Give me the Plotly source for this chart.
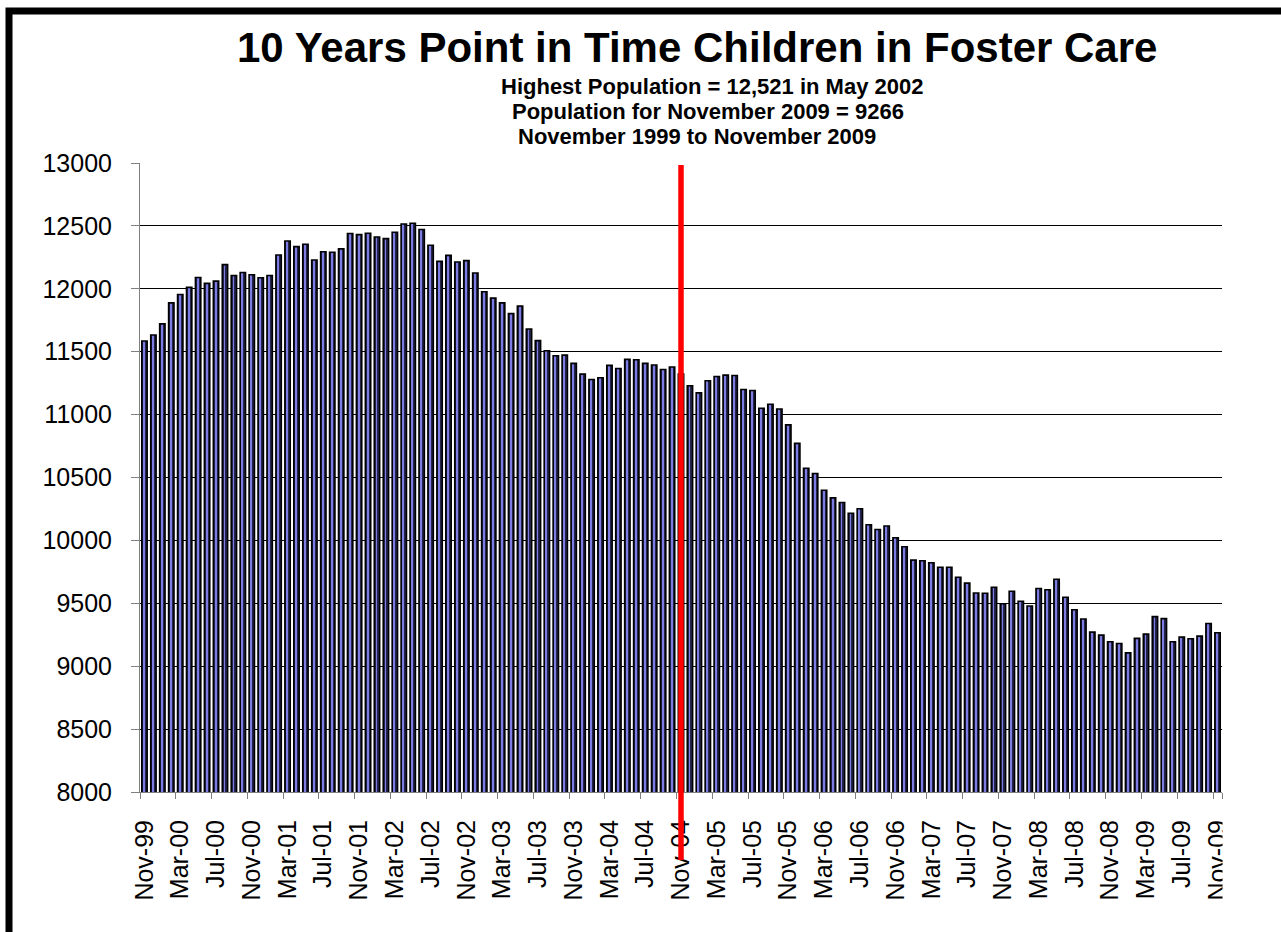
import pandas as pd
import plotly.graph_objects as go

# Monthly point-in-time counts, Nov 1999 .. Nov 2009
months = [d.strftime("%b-%y") for d in pd.date_range("1999-11-01", "2009-11-01", freq="MS")]

children = [
    11585, 11633, 11721, 11888, 11955, 12011, 12090, 12043, 12061, 12192,
    12106, 12130, 12112, 12088, 12106, 12269, 12380, 12335, 12354, 12229,
    12295, 12290, 12317, 12439, 12431, 12442, 12412, 12399, 12450, 12515,
    12521, 12471, 12346, 12218, 12266, 12213, 12224, 12125, 11976, 11926,
    11888, 11803, 11862, 11681, 11588, 11508, 11468, 11473, 11407, 11322,
    11279, 11293, 11391, 11367, 11439, 11436, 11407, 11394, 11359, 11378,
    11322, 11229, 11173, 11269, 11303, 11314, 11311, 11200, 11192, 11051,
    11082, 11045, 10918, 10771, 10574, 10532, 10399, 10338, 10301, 10216,
    10251, 10124, 10087, 10114, 10021, 9949, 9843, 9838, 9822, 9787,
    9787, 9707, 9660, 9582, 9580, 9628, 9497, 9596, 9516, 9479,
    9618, 9608, 9691, 9548, 9449, 9375, 9271, 9247, 9194, 9181,
    9106, 9221, 9255, 9394, 9378, 9194, 9231, 9218, 9239, 9340,
    9266,
]

tick_labels = months[::4]
marker_month = "Nov-04"

title = "10 Years Point in Time Children in Foster Care"
subtitles = [
    "Highest Population = 12,521 in May 2002",
    "Population for November 2009 = 9266",
    "November 1999 to November 2009",
]

FONT = "Arial, 'Liberation Sans', sans-serif"
W, H = 1281, 932
L, R, T, B = 140, 59, 163, 140
PW, PH = W - L - R, H - T - B


def px_x(px):
    return (px - L) / PW


def px_y(py):
    return (H - B - py) / PH


fig = go.Figure()

BAR_W = 0.6
# body of each bar
fig.add_trace(go.Bar(
    x=months, y=children, width=BAR_W,
    marker=dict(color="#24244c", line=dict(width=0)),
    hoverinfo="x+y", showlegend=False,
))
# light highlight stripe inside each bar
fig.add_trace(go.Bar(
    x=months, y=children, width=0.1, offset=-0.1,
    marker=dict(color="#7c7ce2", line=dict(width=0)),
    hoverinfo="skip", showlegend=False,
))
# black outline on top
fig.add_trace(go.Bar(
    x=months, y=children, width=BAR_W,
    marker=dict(color="rgba(0,0,0,0)", line=dict(width=1.6, color="#000000")),
    hoverinfo="skip", showlegend=False,
))

fig.update_layout(
    width=W, height=H, autosize=False,
    margin=dict(l=L, r=R, t=T, b=B, pad=0),
    paper_bgcolor="white", plot_bgcolor="white",
    barmode="overlay",
    font=dict(family=FONT, color="black"),
)

fig.update_xaxes(
    type="category", categoryorder="array", categoryarray=months,
    tickmode="array", tickvals=tick_labels, ticktext=tick_labels,
    tickson="boundaries", ticks="outside", ticklen=6, tickcolor="#808080",
    tickangle=-90, tickfont=dict(size=25, family=FONT, color="black"),
    ticklabelstandoff=17,
    showgrid=False, showline=True, linecolor="#808080", linewidth=1,
    range=[-0.5, len(months) - 0.5], fixedrange=True,
)
fig.update_yaxes(
    range=[8000, 13000], dtick=500, tick0=8000,
    exponentformat="none", separatethousands=False, tickformat="d",
    ticks="outside", ticklen=8, tickcolor="#808080",
    tickfont=dict(size=25, family=FONT, color="black"),
    ticklabelstandoff=14,
    showgrid=True, gridcolor="#000000", gridwidth=1,
    showline=True, linecolor="#808080", linewidth=1,
    zeroline=False, fixedrange=True,
)

marker_idx = months.index(marker_month)
shapes = [
    # red marker line at November 2004
    dict(type="line", xref="x", yref="paper",
         x0=marker_idx, x1=marker_idx, y0=px_y(860), y1=px_y(165),
         line=dict(color="#ff0000", width=5.5), layer="above"),
    # hide the overhang of the last tick label past the plot edge
    dict(type="rect", xref="paper", yref="paper",
         x0=1.0005, x1=px_x(W + 10), y0=px_y(H + 10), y1=px_y(800),
         fillcolor="white", line=dict(width=0), layer="above"),
    # outer frame
    dict(type="rect", xref="paper", yref="paper",
         x0=px_x(9), x1=px_x(W + 20), y0=px_y(H + 20), y1=px_y(11),
         fillcolor="rgba(0,0,0,0)", line=dict(color="black", width=7),
         layer="above"),
]
fig.update_layout(shapes=shapes)

annotations = [
    dict(text=f"<b>{title}</b>", x=px_x(697), y=px_y(48),
         font=dict(size=42, family=FONT, color="black")),
    dict(text=f"<b>{subtitles[0]}</b>", x=px_x(712), y=px_y(86),
         font=dict(size=22, family=FONT, color="black")),
    dict(text=f"<b>{subtitles[1]}</b>", x=px_x(708), y=px_y(111),
         font=dict(size=22, family=FONT, color="black")),
    dict(text=f"<b>{subtitles[2]}</b>", x=px_x(697), y=px_y(136),
         font=dict(size=22, family=FONT, color="black")),
]
for a in annotations:
    a.update(xref="paper", yref="paper", showarrow=False,
             xanchor="center", yanchor="middle", borderpad=0)
fig.update_layout(annotations=annotations)

fig.write_html("out.html", config={"displayModeBar": False})
